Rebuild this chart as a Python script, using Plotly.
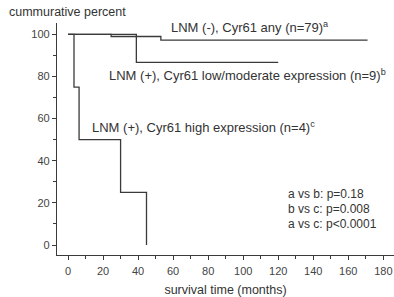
import plotly.graph_objects as go

# Kaplan-Meier step data (months, cumulative percent)
a_t = [0, 24.6, 53, 171]
a_s = [100, 99.0, 97.3, 97.3]
b_t = [0, 39, 120]
b_s = [100, 86.7, 86.7]
c_t = [0, 3.4, 6.3, 30, 44.8, 44.8]
c_s = [100, 75, 50, 25, 0, 0]

x_ticks = [0, 20, 40, 60, 80, 100, 120, 140, 160, 180]
y_ticks = [0, 20, 40, 60, 80, 100]

labels = [
    "LNM (-), Cyr61 any (n=79)<sup>a</sup>",
    "LNM (+), Cyr61 low/moderate expression (n=9)<sup>b</sup>",
    "LNM (+), Cyr61 high expression (n=4)<sup>c</sup>",
]
pvals = ["a vs b: p=0.18", "b vs c: p=0.008", "a vs c: p<0.0001"]

LC = "#3a3a3a"
TC = "#333333"
FONT = "Liberation Sans, Arial, sans-serif"

fig = go.Figure()
for t, s in [(a_t, a_s), (b_t, b_s), (c_t, c_s)]:
    fig.add_trace(go.Scatter(x=t, y=s, mode="lines", line=dict(color=LC, width=1.3, shape="hv"),
                             showlegend=False, hoverinfo="skip"))

ann = [
    dict(x=57.5, y=103.3, text=labels[0]),
    dict(x=22.5, y=80.5, text=labels[1]),
    dict(x=12.5, y=56, text=labels[2]),
]
for a in ann:
    fig.add_annotation(x=a["x"], y=a["y"], text=a["text"], xanchor="left", yanchor="middle",
                       showarrow=False, font=dict(family=FONT, size=13, color=TC))
for i, p in enumerate(pvals):
    fig.add_annotation(x=124.5, y=24 - i * 7.1, text=p, xanchor="left", yanchor="middle",
                       showarrow=False, font=dict(family=FONT, size=12, color=TC))

fig.add_annotation(xref="paper", yref="paper", x=-0.148, y=1.0, yshift=2, text="cummurative percent",
                   xanchor="left", yanchor="bottom", showarrow=False,
                   font=dict(family=FONT, size=12.5, color=TC))

fig.update_layout(
    width=394, height=297,
    margin=dict(l=57, r=0, t=23, b=42),
    paper_bgcolor="white", plot_bgcolor="white",
    font=dict(family=FONT, color=TC),
    xaxis=dict(range=[-6.3, 186.1], tickvals=x_ticks, showgrid=False, zeroline=False,
               showline=True, linecolor=LC, linewidth=1.3, ticks="outside", ticklen=4,
               tickcolor=LC, tickfont=dict(size=11, color="#444"), ticklabelstandoff=2,
               minor=dict(tickvals=list(range(10, 190, 20)), ticks="outside", ticklen=3, tickcolor=LC),
               title=dict(text="survival time (months)", font=dict(size=12.5, color=TC), standoff=8)),
    yaxis=dict(range=[-4.75, 105.4], tickvals=y_ticks, showgrid=False, zeroline=False,
               showline=True, linecolor=LC, linewidth=1.3, ticks="outside", ticklen=4,
               tickcolor=LC, tickfont=dict(size=11, color="#444"),
               minor=dict(tickvals=list(range(10, 100, 20)), ticks="outside", ticklen=3, tickcolor=LC)),
)

fig.write_html("out.html", config={"displayModeBar": False},
               post_script="document.body.style.margin='0';")
